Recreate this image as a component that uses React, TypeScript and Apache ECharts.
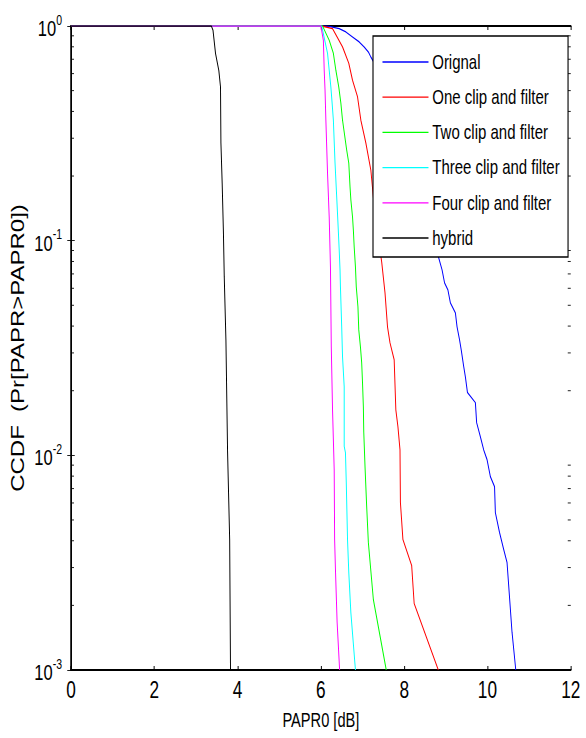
import React, { useEffect, useRef } from "react";
import * as echarts from "echarts";

const seriesNames = [
  "Orignal",
  "One clip and filter",
  "Two clip and filter",
  "Three clip and filter",
  "Four clip and filter",
  "hybrid",
];
const seriesColors = ["#0000ff", "#ff0000", "#00ff00", "#00ffff", "#ff00ff", "#000000"];

const original = [
  [0, 1], [6.04, 1], [6.2, 0.997], [6.44, 0.972], [6.6, 0.938], [6.76, 0.889], [6.92, 0.843],
  [7.04, 0.799], [7.14, 0.757], [7.2, 0.717], [7.52, 0.559], [7.88, 0.384], [8.24, 0.237],
  [8.55, 0.139], [8.82, 0.0843], [8.91, 0.0731], [8.97, 0.0636], [9.05, 0.059], [9.11, 0.0513],
  [9.23, 0.0461], [9.27, 0.0397], [9.33, 0.0345], [9.37, 0.031], [9.43, 0.0259], [9.47, 0.0232],
  [9.52, 0.0196], [9.71, 0.0176], [9.74, 0.0142], [9.83, 0.0122], [9.91, 0.0106], [9.99, 0.00955],
  [10.07, 0.00796], [10.17, 0.00715], [10.19, 0.00541], [10.29, 0.00437], [10.39, 0.00364],
  [10.47, 0.00317], [10.59, 0.0015], [10.68, 0.001],
];
const oneClip = [
  [0, 1], [6.02, 1], [6.28, 0.972], [6.52, 0.799], [6.67, 0.671], [6.76, 0.559], [6.88, 0.468],
  [6.96, 0.364], [7.08, 0.285], [7.2, 0.213], [7.3, 0.132], [7.46, 0.0796], [7.54, 0.0571],
  [7.6, 0.0397], [7.66, 0.0334], [7.76, 0.0279], [7.8, 0.0163], [7.85, 0.0136], [7.9, 0.0106],
  [7.91, 0.00603], [7.97, 0.00405], [8.18, 0.00307], [8.24, 0.00204], [8.82, 0.001],
];
const twoClip = [
  [0, 1], [6.04, 1], [6.2, 0.858], [6.3, 0.746], [6.36, 0.622], [6.43, 0.519], [6.48, 0.437],
  [6.52, 0.364], [6.62, 0.264], [6.67, 0.23], [6.7, 0.178], [6.72, 0.155], [6.76, 0.129],
  [6.78, 0.112], [6.8, 0.0935], [6.83, 0.0755], [6.85, 0.0609], [6.89, 0.0492], [6.91, 0.0384],
  [6.95, 0.032], [6.98, 0.027], [7.0, 0.0218], [7.02, 0.0169], [7.03, 0.0128], [7.06, 0.00886],
  [7.1, 0.00577], [7.14, 0.00393], [7.26, 0.00213], [7.57, 0.001],
];
const threeClip = [
  [0, 1], [6.02, 1], [6.16, 0.746], [6.2, 0.622], [6.24, 0.519], [6.27, 0.437], [6.3, 0.364],
  [6.34, 0.23], [6.38, 0.16], [6.41, 0.121], [6.44, 0.0905], [6.46, 0.0731], [6.47, 0.0609],
  [6.5, 0.0397], [6.52, 0.0288], [6.56, 0.0209], [6.56, 0.011], [6.59, 0.0103], [6.61, 0.00746],
  [6.64, 0.00405], [6.67, 0.00285], [6.72, 0.00185], [6.83, 0.001],
];
const fourClip = [
  [0, 1], [6.0, 1], [6.06, 0.858], [6.08, 0.622], [6.1, 0.502], [6.12, 0.364], [6.16, 0.206],
  [6.2, 0.129], [6.23, 0.0755], [6.25, 0.032], [6.28, 0.0163], [6.32, 0.00858], [6.33, 0.00405],
  [6.35, 0.00294], [6.39, 0.00167], [6.45, 0.001],
];
const hybrid = [
  [0, 1], [3.37, 1], [3.41, 0.955], [3.47, 0.746], [3.55, 0.62], [3.59, 0.52], [3.6, 0.285],
  [3.63, 0.185], [3.66, 0.109], [3.68, 0.0678], [3.72, 0.0345], [3.76, 0.0103], [3.81, 0.00405],
  [3.83, 0.001],
];
const seriesData = [original, oneClip, twoClip, threeClip, fourClip, hybrid];

const xMin = 0;
const xMax = 12;
const xInterval = 2;
const yMin = 0.001;
const yMax = 1;
const minorDecades = [-3, -2, -1];
const minorMultipliers = [2, 3, 4, 5, 6, 7, 8, 9];

// The reference figure is horizontally squeezed; draw wide, then squeeze.
const SQUEEZE = 0.75;
const PAGE_W = 586;
const PAGE_H = 738;
const hx = (px: number) => px / SQUEEZE;

const font = "'Liberation Sans', Arial, Helvetica, sans-serif";

export default function App() {
  const ref = useRef<HTMLDivElement>(null);
  useEffect(() => {
    if (!ref.current) return;
    const chart = echarts.init(ref.current, null, { renderer: "svg" });
    const minorTicks: number[][] = [];
    minorDecades.forEach((d) =>
      minorMultipliers.forEach((m) => minorTicks.push([0, m * Math.pow(10, d)]))
    );
    const axisLine = { show: true, lineStyle: { color: "#000", width: 2 } };
    const option: any = {
      animation: false,
      backgroundColor: "#fff",
      grid: {
        left: hx(71),
        right: hx(15),
        top: 26,
        bottom: 68,
        containLabel: false,
        outerBoundsMode: "none",
      },
      legend: {
        data: seriesNames,
        orient: "vertical",
        left: hx(373),
        top: 36,
        padding: [16, 11, 9, hx(9)],
        itemWidth: hx(46),
        itemHeight: 20,
        itemGap: 15.2,
        backgroundColor: "#fff",
        borderColor: "#000",
        borderWidth: 1.5,
        borderRadius: 0,
        z: 10,
        selectedMode: false,
        itemStyle: { color: "rgba(0,0,0,0)", borderWidth: 0, opacity: 0 },
        lineStyle: { width: 1.3 },
        textStyle: { fontSize: 20, fontFamily: font, color: "#000", lineHeight: 20 },
      },
      xAxis: [
        {
          type: "value",
          min: xMin,
          max: xMax,
          interval: xInterval,
          name: "PAPR0 [dB]",
          nameLocation: "middle",
          nameGap: 40,
          nameTextStyle: { fontSize: 19.5, fontFamily: font, color: "#000" },
          axisLine,
          axisTick: { show: true, inside: true, length: 4, lineStyle: { color: "#000", width: 1.3 } },
          axisLabel: { fontSize: 23, fontFamily: font, color: "#000", margin: 9 },
          splitLine: { show: false },
        },
        {
          type: "value",
          position: "top",
          min: xMin,
          max: xMax,
          interval: xInterval,
          axisLine,
          axisTick: { show: true, inside: true, length: 4, lineStyle: { color: "#000", width: 1.3 } },
          axisLabel: { show: false },
          splitLine: { show: false },
        },
      ],
      yAxis: [
        {
          type: "log",
          logBase: 10,
          min: yMin,
          max: yMax,
          name: "CCDF  (Pr[PAPR>PAPR0])",
          nameLocation: "middle",
          nameGap: 56,
          nameRotate: 90,
          nameTextStyle: { fontSize: 24, fontFamily: font, color: "#000" },
          axisLine,
          axisTick: { show: true, inside: true, length: 5, lineStyle: { color: "#000" } },
          axisLabel: {
            margin: 12,
            formatter: (v: number) => `{b|10}{s|${Math.round(Math.log10(v))}}`,
            rich: {
              b: { fontSize: 22, fontFamily: font, color: "#000", lineHeight: 26, verticalAlign: "bottom" },
              s: { fontSize: 14, fontFamily: font, color: "#000", lineHeight: 14, verticalAlign: "top" },
            },
          },
          splitLine: { show: false },
        },
        {
          type: "log",
          logBase: 10,
          min: yMin,
          max: yMax,
          position: "right",
          axisLine,
          axisTick: { show: true, inside: true, length: 5, lineStyle: { color: "#000" } },
          axisLabel: { show: false },
          splitLine: { show: false },
        },
      ],
      series: [
        ...seriesNames.map((name, i) => ({
          name,
          type: "line",
          data: seriesData[i],
          symbol: "none",
          showSymbol: false,
          color: seriesColors[i],
          lineStyle: { color: seriesColors[i], width: 1.3 },
          emphasis: { disabled: true },
          z: 2,
        })),
        {
          type: "custom",
          name: "minorTicks",
          silent: true,
          clip: false,
          data: minorTicks,
          z: 5,
          renderItem: (_params: any, api: any) => {
            const v = api.value(1);
            const l = api.coord([xMin, v]);
            const r = api.coord([xMax, v]);
            return {
              type: "group",
              children: [
                { type: "line", shape: { x1: l[0], y1: l[1], x2: l[0] + 4, y2: l[1] }, style: { stroke: "#000", lineWidth: 1 } },
                { type: "line", shape: { x1: r[0], y1: r[1], x2: r[0] - 4, y2: r[1] }, style: { stroke: "#000", lineWidth: 1 } },
              ],
            };
          },
        },
      ],
    };
    chart.setOption(option);
    return () => chart.dispose();
  }, []);
  return (
    <div
      style={{
        position: "absolute",
        left: 0,
        top: 0,
        width: PAGE_W,
        height: PAGE_H,
        overflow: "hidden",
        background: "#fff",
      }}
    >
      <div
        ref={ref}
        style={{
          width: hx(PAGE_W),
          height: PAGE_H,
          transform: `scaleX(${SQUEEZE})`,
          transformOrigin: "0 0",
        }}
      />
    </div>
  );
}
